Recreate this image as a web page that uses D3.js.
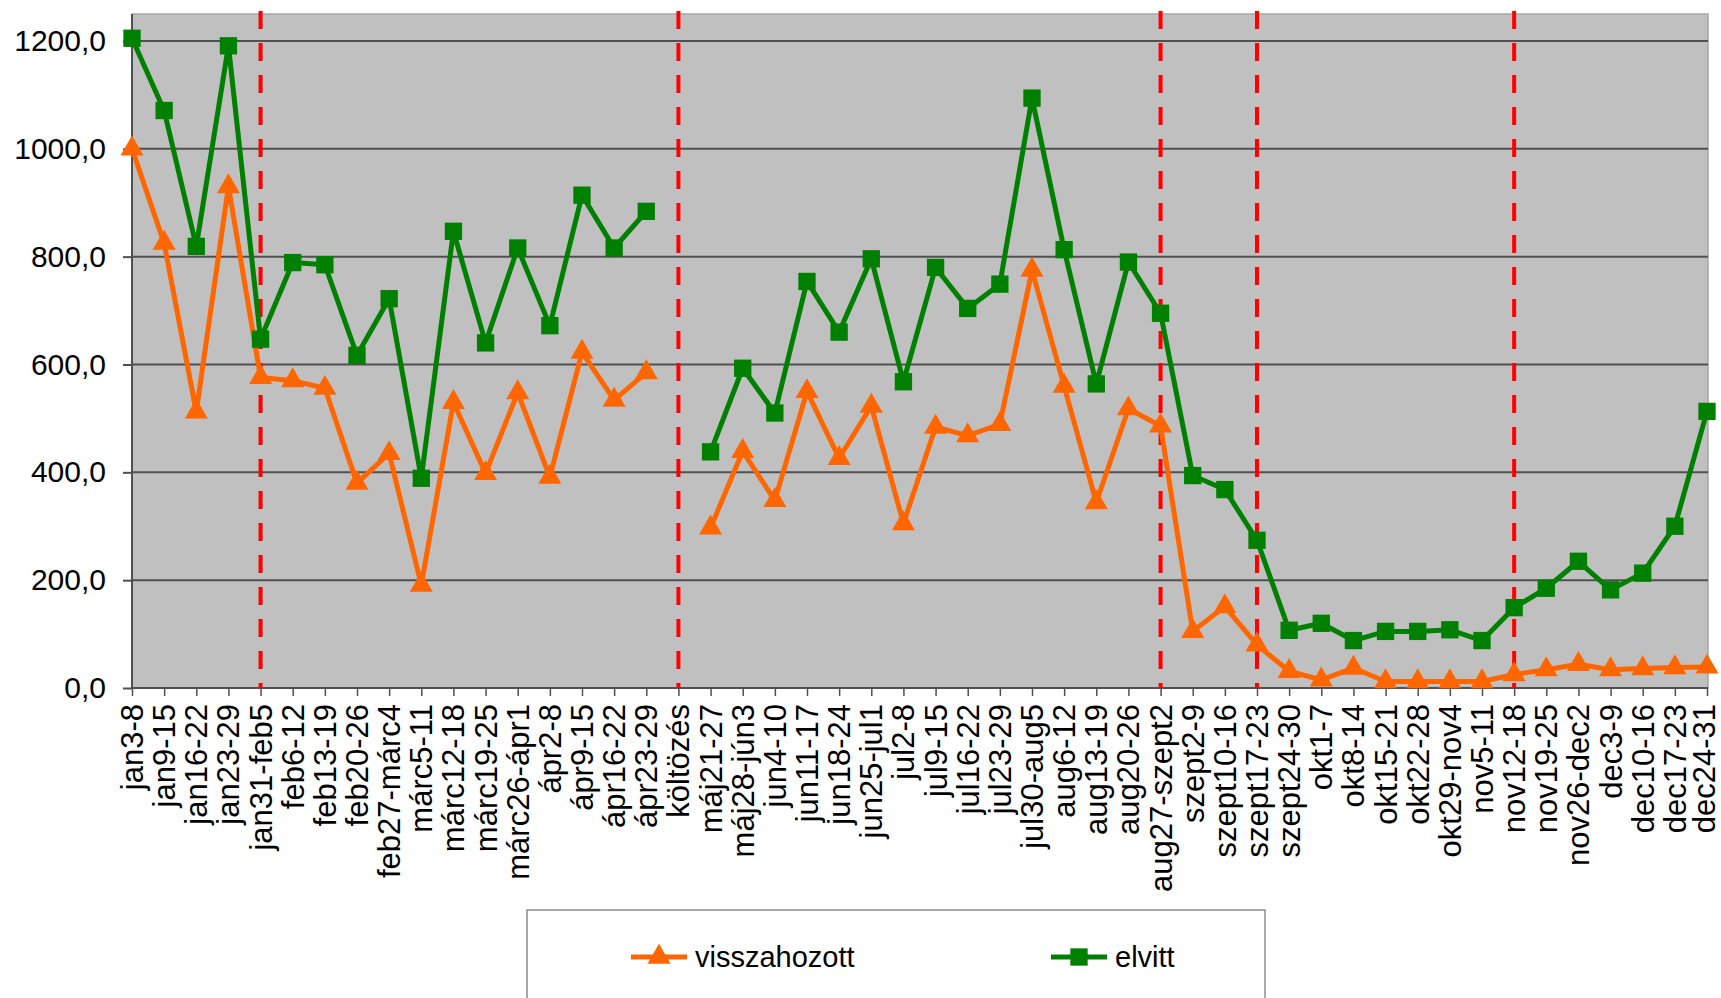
<!DOCTYPE html>
<html>
<head>
<meta charset="utf-8">
<script src="https://cdnjs.cloudflare.com/ajax/libs/d3/7.8.5/d3.min.js"></script>
<style>
  html, body { margin: 0; padding: 0; background: #fff; }
  svg { display: block; font-family: "Liberation Sans", Arial, sans-serif; }
</style>
</head>
<body>
<svg id="chart" width="1721" height="998"></svg>
<script>
// Weekly counts, two series (visszahozott / elvitt)
var weeks = [
  'jan3-8', 'jan9-15', 'jan16-22', 'jan23-29', 'jan31-feb5', 'feb6-12', 'feb13-19',
  'feb20-26', 'feb27-márc4', 'márc5-11', 'márc12-18', 'márc19-25', 'márc26-ápr1',
  'ápr2-8', 'ápr9-15', 'ápr16-22', 'ápr23-29', 'költözés', 'máj21-27', 'máj28-jún3',
  'jun4-10', 'jun11-17', 'jun18-24', 'jun25-jul1', 'jul2-8', 'jul9-15', 'jul16-22',
  'jul23-29', 'jul30-aug5', 'aug6-12', 'aug13-19', 'aug20-26', 'aug27-szept2',
  'szept2-9', 'szept10-16', 'szept17-23', 'szept24-30', 'okt1-7', 'okt8-14',
  'okt15-21', 'okt22-28', 'okt29-nov4', 'nov5-11', 'nov12-18', 'nov19-25',
  'nov26-dec2', 'dec3-9', 'dec10-16', 'dec17-23', 'dec24-31'
];

var visszahozott = [
  1000, 825, 512, 930, 576, 570, 556, 380, 435, 191, 530, 398, 548,
  391, 623, 534, 585, null, 297, 439, 348, 550, 426, 523, 305, 484, 468,
  489, 775, 560, 344, 518, 486, 105, 151, 80, 31, 15, 37,
  12, 12, 12, 12, 25, 34, 44, 34, 36, 38, 39
];

var elvitt = [
  1205, 1071, 819, 1191, 647, 789, 785, 617, 722, 389, 847, 640, 816,
  672, 914, 816, 884, null, 438, 593, 510, 754, 660, 796, 568, 780, 704,
  749, 1094, 813, 564, 790, 695, 394, 368, 274, 107, 120, 88,
  105, 105, 108, 88, 149, 185, 235, 182, 213, 300, 513
];

// Weeks marked with a red dashed line
var markedWeeks = ['jan31-feb5', 'költözés', 'aug27-szept2', 'szept17-23', 'nov12-18'];

var yTicks = [0, 200, 400, 600, 800, 1000, 1200];

var seriesNames = ['visszahozott', 'elvitt'];
var seriesColors = ['#ff6600', '#008000'];

// Plot area
var plot = {left: 132, right: 1708, top: 14, bottom: 688};

var svg = d3.select('#chart');

var x = d3.scalePoint()
    .domain(weeks)
    .range([plot.left, plot.right - 1])
    .padding(0);

var y = d3.scaleLinear()
    .domain([0, 1250])
    .range([plot.bottom, plot.top]);

// Background
svg.append('rect')
    .attr('x', plot.left)
    .attr('y', plot.top)
    .attr('width', plot.right - plot.left)
    .attr('height', plot.bottom - plot.top)
    .attr('fill', '#c0c0c0')
    .attr('stroke', '#a6a6a6')
    .attr('stroke-width', 1.5);

// Gridlines
svg.append('g')
    .selectAll('line')
    .data(yTicks.filter(function(d) { return d > 0; }))
    .enter().append('line')
    .attr('x1', plot.left)
    .attr('x2', plot.right)
    .attr('y1', function(d) { return y(d); })
    .attr('y2', function(d) { return y(d); })
    .attr('stroke', '#505050')
    .attr('stroke-width', 2);

// Y axis
var yAxis = d3.axisLeft(y)
    .tickValues(yTicks)
    .tickSize(9)
    .tickPadding(17)
    .tickFormat(function(d) { return d3.format('.1f')(d).replace('.', ','); });

var gy = svg.append('g')
    .attr('transform', 'translate(' + plot.left + ',0)')
    .call(yAxis);
gy.select('.domain').attr('stroke', '#505050').attr('stroke-width', 2)
    .attr('d', 'M0,' + plot.top + 'V' + plot.bottom);
gy.selectAll('.tick line').attr('stroke', '#505050').attr('stroke-width', 2);
gy.selectAll('.tick text')
    .attr('fill', '#000')
    .style('font-size', '30px');

// X axis
var xAxis = d3.axisBottom(x)
    .tickSize(8)
    .tickPadding(0);

var gx = svg.append('g')
    .attr('transform', 'translate(0,' + plot.bottom + ')')
    .call(xAxis);
gx.select('.domain').attr('stroke', '#505050').attr('stroke-width', 2)
    .attr('d', 'M' + plot.left + ',0H' + plot.right);
gx.selectAll('.tick line').attr('stroke', '#505050').attr('stroke-width', 1.5);
// rotated labels; the last one nudged left so it stays inside the page
gx.selectAll('.tick text')
    .attr('fill', '#000')
    .attr('y', 0)
    .attr('dy', 0)
    .attr('text-anchor', 'end')
    .attr('dominant-baseline', 'central')
    .attr('transform', function(d, i) {
        var dx = i === weeks.length - 1 ? -3 : 0;
        return 'translate(' + dx + ',16) rotate(-90)';
    })
    .style('font-size', '31px');

// Red dashed markers
svg.append('g')
    .selectAll('line')
    .data(markedWeeks)
    .enter().append('line')
    .attr('x1', function(d) { return x(d); })
    .attr('x2', function(d) { return x(d); })
    .attr('y1', 11)
    .attr('y2', plot.bottom)
    .attr('stroke', '#ff0000')
    .attr('stroke-width', 4)
    .attr('stroke-dasharray', '18,14');

var series = [visszahozott, elvitt];

var line = d3.line()
    .defined(function(d) { return d !== null; })
    .x(function(d, i) { return x(weeks[i]); })
    .y(function(d) { return y(d); });

var triangle = d3.symbol().type(d3.symbolTriangle).size(230);
var square = d3.symbol().type(d3.symbolSquare).size(300);
var symbols = [triangle, square];

series.forEach(function(values, s) {
    svg.append('path')
        .datum(values)
        .attr('fill', 'none')
        .attr('stroke', seriesColors[s])
        .attr('stroke-width', 5)
        .attr('stroke-linejoin', 'round')
        .attr('d', line);

    svg.append('g')
        .selectAll('path')
        .data(values.map(function(v, i) { return {v: v, w: weeks[i]}; })
            .filter(function(d) { return d.v !== null; }))
        .enter().append('path')
        .attr('d', symbols[s])
        .attr('fill', seriesColors[s])
        .attr('transform', function(d) {
            return 'translate(' + x(d.w) + ',' + y(d.v) + ')';
        });
});

// Legend
var legend = svg.append('g');
legend.append('rect')
    .attr('x', 527)
    .attr('y', 910)
    .attr('width', 738)
    .attr('height', 120)
    .attr('fill', '#fff')
    .attr('stroke', '#8c8c8c')
    .attr('stroke-width', 1.5);

var legendX = [631, 1051];
seriesNames.forEach(function(name, s) {
    var g = legend.append('g').attr('transform', 'translate(' + legendX[s] + ',957)');
    g.append('line')
        .attr('x1', 0).attr('x2', 56)
        .attr('y1', 0).attr('y2', 0)
        .attr('stroke', seriesColors[s])
        .attr('stroke-width', 5);
    g.append('path')
        .attr('d', symbols[s])
        .attr('fill', seriesColors[s])
        .attr('transform', 'translate(28,0)');
    g.append('text')
        .attr('x', 64)
        .attr('y', 0)
        .attr('dy', '0.35em')
        .style('font-size', '29px')
        .text(name);
});
</script>
</body>
</html>
